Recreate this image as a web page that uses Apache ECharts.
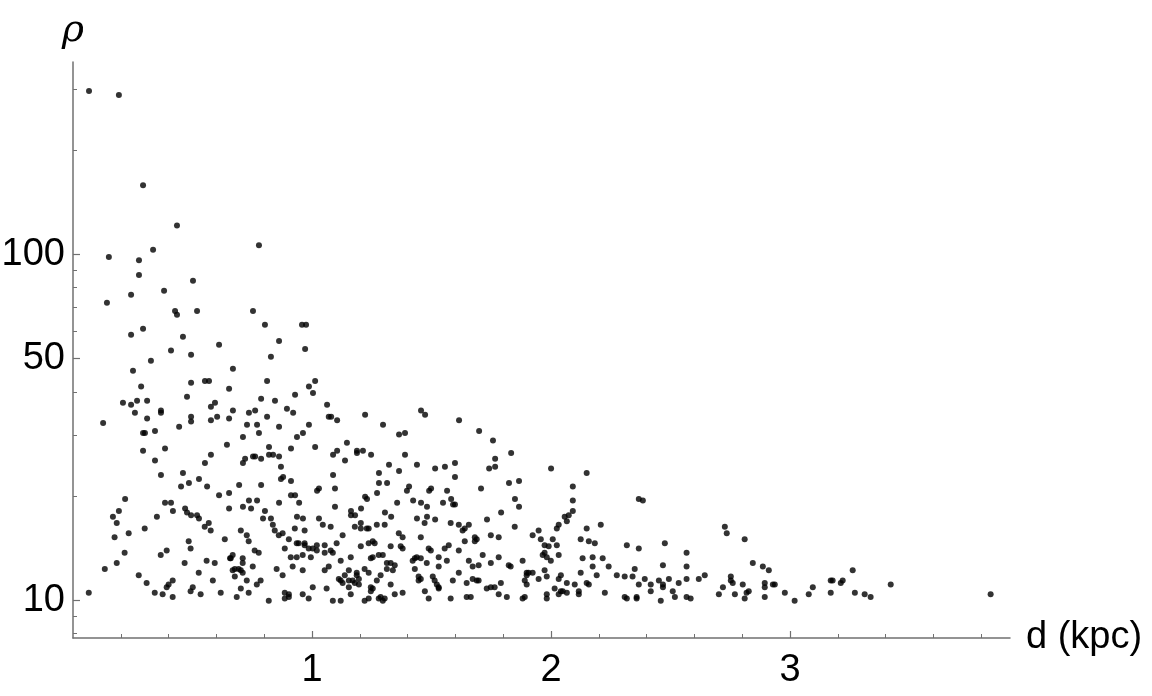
<!DOCTYPE html>
<html>
<head>
<meta charset="utf-8">
<title>rho vs d</title>
<script src="https://cdn.jsdelivr.net/npm/echarts@6/dist/echarts.min.js"></script>
<style>
    html, body { margin: 0; padding: 0; background: #fff; }
    #chart { width: 1152px; height: 696px; }
</style>
</head>
<body>
<div id="chart"></div>
<script>
// distance d (kpc)
var dist = [
    0.067, 0.192, 0.293, 0.435, 0.778, 0.335, 0.150, 0.276,
    0.276, 0.502, 0.381, 0.243, 0.142, 0.427, 0.435, 0.519, 0.753, 0.803, 0.958, 0.975,
    0.243, 0.293, 0.460, 0.862, 0.611, 0.971, 0.410, 0.494, 0.828, 0.326, 0.669, 0.251,
    0.552, 0.569, 0.812, 1.013, 0.494, 0.653, 0.285, 0.987, 1.004, 0.477, 0.929, 0.787,
    0.845, 0.209, 0.243, 0.268, 0.310, 0.594, 0.577, 1.063, 0.259, 0.368, 0.368, 0.669,
    0.736, 0.762, 0.895, 0.921, 0.494, 0.603, 0.653, 0.812, 0.310, 0.577, 1.070,
    1.080, 1.105, 1.222, 1.456, 1.473, 1.615,
    0.126, 0.494, 0.293, 0.301, 0.343, 0.444, 0.644, 0.293, 0.385, 0.577, 0.343, 0.552,
    0.460, 0.368, 0.527, 0.485, 0.452, 0.561, 0.653, 0.611, 0.218, 0.385, 0.410, 0.192,
    0.418, 0.469, 0.477, 0.494, 0.519, 0.527, 0.653, 0.167, 0.351,
    0.728, 0.770, 0.862, 0.987, 1.297, 0.778, 0.711, 0.962, 0.937, 0.820, 0.912, 1.013,
    1.146, 0.820, 0.837, 0.862, 0.720, 0.711, 0.753, 0.762, 0.787, 1.088, 1.105, 1.188,
    1.188, 1.213, 1.247, 1.138, 1.322, 0.870, 1.280, 1.088, 0.879, 0.870, 0.912, 1.280,
    1.314, 0.695, 0.787, 1.096, 1.029, 1.021, 1.272, 0.912, 0.929, 1.222, 1.230, 0.736,
    0.770, 0.862, 0.946, 0.711, 0.745, 0.803, 1.096, 1.205, 1.163, 1.163, 1.180, 1.305,
    0.795, 0.828, 0.937, 0.962, 1.029,
    1.364, 1.389, 1.699, 1.757, 1.833, 1.389, 1.766, 1.439, 1.598, 1.556, 1.515, 1.364,
    1.741, 1.766, 2.000, 1.598, 1.824, 1.866, 1.406, 1.397, 1.498, 1.490, 1.565, 1.707,
    1.849, 1.582, 1.423, 1.356, 1.456, 1.548, 1.590, 1.598, 1.481, 1.866, 1.331, 1.439,
    1.481, 1.515, 1.791, 1.732,
    0.066, 0.133, 0.183, 0.174, 0.183, 0.233, 0.216, 0.275, 0.308, 0.342, 0.375, 0.417,
    0.392, 0.400, 0.417, 0.367, 0.392, 0.300, 0.551, 0.568, 0.576, 0.635, 0.484, 0.492,
    0.467, 0.559, 0.593, 0.657, 0.526, 0.585, 0.501, 0.492, 0.534, 0.618,
    0.836, 1.045, 1.078, 1.204, 1.204, 1.229, 1.237, 1.179, 1.271, 1.304, 0.702, 0.727,
    0.735, 0.844, 0.861, 0.877, 0.928, 0.969, 0.903, 1.128, 0.936, 0.944, 0.969, 0.969,
    1.020, 1.053, 1.103, 1.204, 1.237, 1.254, 1.262, 0.760, 0.777, 0.886, 0.911, 0.936,
    0.961, 0.986, 0.995, 1.003, 1.020, 1.053, 1.078, 1.087, 1.162, 1.246, 1.254, 1.279,
    1.296, 1.313, 0.668, 0.660, 0.710, 0.710, 0.752, 0.677, 0.693, 0.702, 0.668, 0.710,
    0.677, 0.852, 0.877, 0.919, 0.961, 1.070, 1.053, 1.120, 0.727, 0.785, 0.769, 0.702,
    0.735, 0.685, 0.819, 0.886, 0.903, 0.886, 0.903, 0.961, 0.986, 1.003, 1.061, 1.087,
    1.120, 1.162, 1.112, 1.120, 1.128, 1.154, 1.154, 1.137, 1.154, 1.187, 1.187, 1.196,
    1.179, 1.196, 1.170, 1.220, 1.237, 1.271, 1.287, 1.313, 1.246, 1.254, 1.246, 1.220,
    1.237, 1.279, 1.287, 1.304, 1.296, 1.329,
    1.471, 1.580, 1.614, 1.656, 1.639, 1.630, 1.848, 1.363, 1.379, 1.455, 1.639, 1.681,
    1.689, 1.681, 1.748, 1.781, 1.923, 1.948, 1.957, 1.973, 2.007, 2.024, 2.032, 1.329,
    1.371, 1.379, 1.572, 1.555, 1.614, 1.488, 1.497, 1.714, 1.781, 1.990, 1.973, 1.965,
    1.982, 2.032, 1.999, 1.421, 1.430, 1.438, 1.455, 1.480, 1.530, 1.564, 1.656, 1.748,
    1.881, 1.329, 1.346, 1.338, 1.430, 1.530, 1.672, 1.697, 1.823, 1.831, 1.898, 1.906,
    1.923, 1.898, 1.973, 1.982, 2.032, 1.446, 1.446, 1.455, 1.505, 1.513, 1.522, 1.530,
    1.530, 1.589, 1.614, 1.647, 1.672, 1.689, 1.697, 1.790, 1.731, 1.748, 1.764, 1.890,
    1.898, 1.948, 2.015, 1.472, 1.346, 1.379, 1.488, 1.580, 1.647, 1.664, 1.781, 1.815,
    1.890, 1.881, 1.982, 1.982,
    2.149, 2.091, 2.091, 2.091, 2.057, 2.074, 2.066, 2.024, 2.149, 2.124, 2.158, 2.183,
    2.208, 2.132, 2.174, 2.174, 2.216, 2.241, 2.124, 2.041, 2.191, 2.066, 2.099, 2.149,
    2.158, 2.041, 2.049, 2.032, 2.066, 2.116, 2.116, 2.225, 2.317, 2.367, 2.367, 2.384,
    2.275, 2.308, 2.341, 2.350, 2.367, 2.392, 2.417, 2.417, 2.308, 2.317, 2.358, 2.358,
    2.476, 2.468, 2.451, 2.468, 2.468, 2.493, 2.459, 2.509, 2.518, 2.534, 2.567, 2.567,
    2.567, 2.567, 2.584, 2.618, 2.643, 2.702, 2.719, 2.727, 2.735, 2.752, 2.752, 2.760,
    2.769, 2.802, 2.810, 2.818, 2.827, 2.810, 2.844, 2.886, 2.911, 2.894, 2.894, 2.928,
    2.936, 2.894, 2.978, 3.019,
    3.078, 3.095, 3.170, 3.178, 3.170, 3.212, 3.220, 3.262, 3.271, 3.312, 3.337, 3.421,
    3.839
];

// rho for each point, same order as dist
var rho = [
    296, 288, 158, 121, 106, 103, 98, 96,
    87, 83.8, 78.3, 76.3, 72.3, 68.5, 66.8, 68.5, 68.5, 62.5, 62.5, 62.5,
    58.5, 60.8, 57.7, 56.1, 54.7, 53.2, 52.6, 51.2, 50.5, 49.2, 46.6, 46.0,
    43.0, 43.0, 43.0, 43.0, 42.5, 40.8, 41.4, 41.4, 39.7, 38.7, 39.2, 38.2,
    37.7, 37.2, 36.7, 37.7, 37.7, 37.2, 36.2, 36.7, 34.8, 35.3, 34.8, 35.3,
    34.8, 35.3, 35.7, 34.8, 33.9, 33.9, 33.5, 33.9, 33.5, 33.1, 33.9,
    33.9, 33.1, 34.3, 35.3, 34.3, 33.1,
    32.5, 32.8, 30.4, 30.4, 30.8, 31.7, 28.1, 27.0, 27.4, 26.3, 25.3, 24.9,
    23.3, 23.0, 22.4, 21.8, 21.3, 21.3, 20.4, 20.1, 19.6, 19.1, 19.1, 18.1,
    18.1, 18.4, 17.9, 17.6, 17.6, 17.2, 18.4, 17.4, 17.4,
    32.1, 32.1, 31.7, 32.1, 32.1, 30.4, 29.6, 30.4, 29.6, 27.7, 27.4, 27.7,
    28.5, 26.3, 26.3, 26.0, 25.6, 24.9, 26.0, 26.0, 25.6, 26.3, 27.0, 27.0,
    26.6, 27.0, 26.3, 25.3, 24.6, 24.3, 23.3, 23.0, 22.7, 22.4, 22.1, 21.8,
    21.8, 21.5, 21.5, 21.0, 21.0, 20.7, 20.4, 20.1, 20.1, 19.9, 19.6, 19.4,
    19.4, 19.1, 19.1, 18.6, 18.4, 18.1, 18.6, 18.4, 18.1, 17.6, 17.6, 17.9,
    17.2, 17.2, 17.4, 17.2, 17.2,
    30.1, 30.4, 30.8, 28.9, 26.6, 26.3, 25.6, 24.6, 24.9, 24.3, 24.0, 23.6,
    24.0, 24.3, 24.0, 22.7, 21.8, 22.1, 21.3, 20.7, 21.0, 20.7, 20.7, 21.0,
    19.6, 19.6, 19.4, 19.1, 19.1, 19.1, 18.9, 18.9, 18.6, 18.6, 17.4, 17.2,
    17.4, 17.1, 17.9, 17.1,
    10.5, 12.3, 12.8, 15.2, 16.7, 15.6, 13.7, 11.8, 11.2, 10.5, 10.4, 10.2,
    10.9, 11.1, 11.4, 13.5, 13.9, 16.1, 16.3, 16.7, 15.9, 15.0, 14.8, 14.1,
    12.8, 13.0, 12.8, 13.2, 12.0, 11.4, 10.9, 10.6, 10.4, 10.5,
    16.5, 16.5, 16.3, 16.7, 16.1, 16.1, 16.1, 16.3, 16.5, 16.5, 15.9, 15.4,
    14.8, 15.9, 15.4, 15.6, 16.1, 15.9, 15.0, 15.4, 14.6, 14.6, 14.6, 14.4,
    14.4, 14.4, 14.6, 14.3, 14.6, 14.8, 14.6, 13.9, 13.7, 14.1, 13.3, 13.3,
    13.5, 14.1, 13.3, 14.1, 13.9, 13.7, 13.9, 13.7, 13.3, 13.2, 13.3, 13.5,
    13.5, 12.8, 13.5, 13.2, 13.2, 12.8, 12.5, 12.3, 12.3, 12.2, 12.2, 12.0,
    11.7, 12.3, 11.8, 12.5, 12.2, 12.5, 12.2, 13.0, 11.4, 11.4, 11.1, 10.8,
    10.5, 10.2, 9.95, 10.5, 10.4, 10.1, 10.2, 10.4, 10.1, 10.9, 10.8, 9.95,
    9.95, 10.4, 11.5, 11.4, 11.2, 11.4, 10.9, 11.8, 12.2, 12.0, 11.8, 11.5,
    11.2, 11.1, 11.4, 12.3, 12.0, 11.4, 11.8, 12.3, 10.9, 10.8, 10.6, 9.95,
    10.1, 10.1, 10.2, 10.1, 9.95, 11.1,
    16.7, 16.7, 16.5, 16.5, 16.1, 15.9, 16.3, 15.6, 15.2, 15.2, 14.8, 15.2,
    15.0, 14.8, 15.4, 15.2, 15.4, 15.9, 15.0, 14.4, 15.0, 16.1, 16.5, 14.3,
    14.3, 14.1, 14.4, 14.1, 13.9, 14.1, 13.9, 13.5, 13.3, 14.3, 13.7, 13.5,
    13.3, 13.5, 13.0, 13.0, 13.2, 13.3, 13.2, 12.8, 13.3, 13.0, 13.0, 12.8,
    13.0, 12.8, 12.6, 12.2, 12.3, 12.5, 12.5, 12.6, 12.6, 12.5, 12.0, 12.0,
    12.0, 11.8, 12.2, 11.7, 11.5, 11.7, 11.4, 11.5, 11.7, 11.4, 11.1, 10.9,
    10.8, 11.4, 12.0, 11.2, 11.5, 11.4, 11.4, 11.2, 10.8, 10.9, 10.9, 11.4,
    11.1, 11.5, 10.8, 10.6, 10.4, 10.5, 10.1, 10.1, 10.2, 10.2, 10.4, 10.2,
    10.2, 10.1, 10.4, 10.1,
    23.3, 21.3, 19.4, 18.1, 17.4, 17.6, 16.9, 14.4, 16.1, 15.0, 14.8, 14.6,
    16.5, 13.2, 13.3, 12.5, 13.2, 12.5, 12.0, 11.8, 11.8, 11.2, 11.1, 11.2,
    11.1, 10.6, 10.6, 10.4, 10.5, 10.6, 10.4, 10.5, 14.4, 14.1, 19.6, 19.4,
    11.8, 11.7, 11.7, 12.3, 11.1, 11.5, 11.1, 10.6, 10.2, 10.1, 10.2, 10.1,
    14.6, 12.6, 11.4, 11.1, 10.9, 11.5, 9.95, 10.6, 10.2, 11.2, 13.7, 12.5,
    11.5, 10.2, 10.1, 11.5, 11.8, 10.4, 10.9, 16.3, 15.6, 11.7, 11.4, 11.2,
    10.4, 11.1, 15.0, 10.5, 10.6, 10.1, 12.8, 12.5, 12.2, 11.2, 10.9, 11.1,
    11.1, 10.2, 10.5, 9.95,
    10.4, 10.9, 11.4, 11.4, 10.5, 11.2, 11.4, 12.2, 10.5, 10.4, 10.2, 11.1,
    10.4
];

// ticks
var xMajorTicks = [1, 2, 3];
var xMinorTicks = [0.2, 0.4, 0.6, 0.8, 1.2, 1.4, 1.6, 1.8, 2.2, 2.4, 2.6, 2.8, 3.2, 3.4, 3.6, 3.8];
var yMajorTicks = [10, 50, 100];
var yMinorTicks = [8, 9, 20, 30, 40, 60, 70, 80, 90, 200, 300];

var xMin = 0, xMax = 3.92;
var yMin = 7.77, yMax = 359;

var axisColor = '#707070';
var fontFamily = '"Liberation Sans", Arial, sans-serif';

// log-scale y: plot log10(rho) on a value axis
var lg = function (v) { return Math.log10(v); };
var points = dist.map(function (d, i) { return [d, lg(rho[i])]; });

var chart = echarts.init(document.getElementById('chart'), null, { renderer: 'canvas' });

var option = {
    animation: false,
    backgroundColor: '#ffffff',
    grid: {
        left: 73,
        right: 142,
        top: 62,
        bottom: 58,
        containLabel: false,
        outerBoundsMode: 'none'
    },
    xAxis: [
        {
            type: 'value',
            min: xMin,
            max: xMax,
            name: 'd (kpc)',
            nameLocation: 'end',
            nameGap: 16,
            nameTextStyle: { color: '#000', fontSize: 38, fontFamily: fontFamily },
            axisLine: { show: true, onZero: false, lineStyle: { color: axisColor, width: 1.5 } },
            axisTick: { show: true, inside: true, length: 7, customValues: xMajorTicks, lineStyle: { color: axisColor, width: 1.2 } },
            axisLabel: { show: true, margin: 14, customValues: xMajorTicks, color: '#000', fontSize: 38, fontFamily: fontFamily },
            splitLine: { show: false }
        },
        {
            // minor ticks only
            type: 'value',
            position: 'bottom',
            min: xMin,
            max: xMax,
            axisLine: { show: false },
            axisTick: { show: true, inside: true, length: 4, customValues: xMinorTicks, lineStyle: { color: axisColor, width: 1 } },
            axisLabel: { show: false },
            splitLine: { show: false }
        }
    ],
    yAxis: [
        {
            type: 'value',
            min: lg(yMin),
            max: lg(yMax),
            name: 'ρ',
            nameLocation: 'end',
            nameGap: 12,
            nameTextStyle: { color: '#000', fontSize: 38, fontStyle: 'italic', fontFamily: '"DejaVu Serif", serif' },
            axisLine: { show: true, onZero: false, lineStyle: { color: axisColor, width: 1.5 } },
            axisTick: { show: true, inside: true, length: 7, customValues: yMajorTicks.map(lg), lineStyle: { color: axisColor, width: 1.2 } },
            axisLabel: {
                show: true,
                margin: 8,
                customValues: yMajorTicks.map(lg),
                color: '#000',
                fontSize: 38,
                fontFamily: fontFamily,
                formatter: function (v) { return String(Math.round(Math.pow(10, v))); }
            },
            splitLine: { show: false }
        },
        {
            type: 'value',
            position: 'left',
            min: lg(yMin),
            max: lg(yMax),
            axisLine: { show: false },
            axisTick: { show: true, inside: true, length: 4, customValues: yMinorTicks.map(lg), lineStyle: { color: axisColor, width: 1 } },
            axisLabel: { show: false },
            splitLine: { show: false }
        }
    ],
    series: [
        {
            type: 'scatter',
            xAxisIndex: 0,
            yAxisIndex: 0,
            symbol: 'circle',
            symbolSize: 6,
            itemStyle: { color: '#000' },
            data: points
        }
    ]
};

chart.setOption(option);
</script>
</body>
</html>
